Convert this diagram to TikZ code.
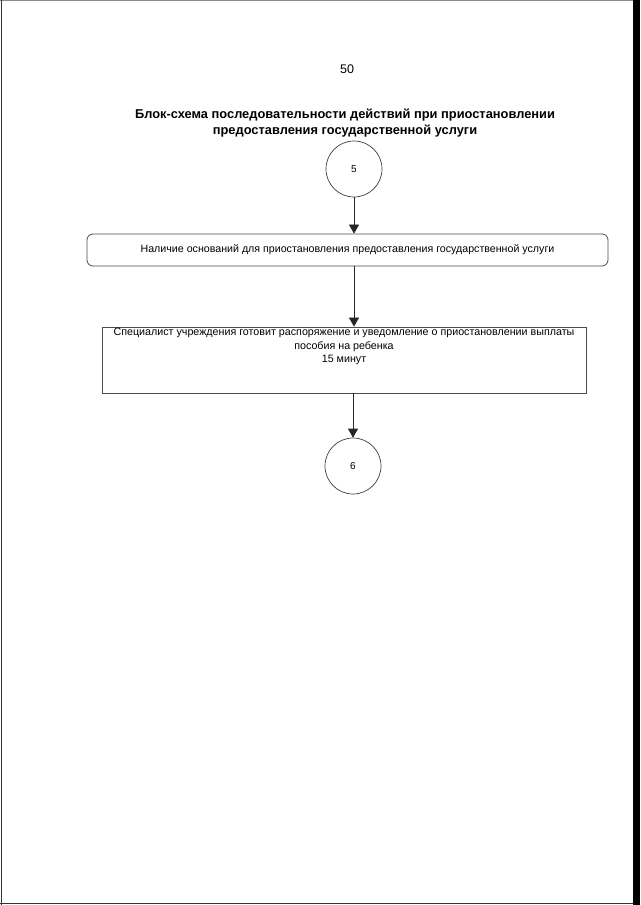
\documentclass[tikz,border=0pt]{standalone}
\usepackage{fontspec}
\setmainfont{Liberation Sans}
\usetikzlibrary{arrows.meta}
\begin{document}
\begin{tikzpicture}[x=1pt,y=-1pt,
  circ/.style={draw=black!75,line width=0.7pt,circle,minimum size=56pt,inner sep=0pt,font=\fontsize{10}{11}\selectfont},
  roundbox/.style={draw=black!70,line width=0.8pt,rounded corners=6pt,minimum width=521pt,minimum height=32pt,inner sep=0pt,font=\fontsize{10.65}{12}\selectfont},
  plainbox/.style={draw=black!70,line width=0.8pt,minimum width=484pt,minimum height=66pt,inner sep=0pt},
  boxtext/.style={align=center,inner sep=0pt,font=\fontsize{10.7}{13.5}\selectfont},
  conn/.style={draw=black!85,line width=0.7pt,-{Triangle[width=10pt,length=9pt]}},
  titletext/.style={align=center,font=\bfseries\fontsize{12.85}{16}\selectfont}]
\useasboundingbox (0,0) rectangle (640,905);
% scanned page edges
\fill[white] (0,0) rectangle (640,905);
\draw[black!45,line width=0.8pt] (0,0.5) -- (633,0.5);
\draw[black!80,line width=1pt] (1,0) -- (1,905);
\draw[black!80,line width=1pt] (0,903.5) -- (633,903.5);
\draw[black,line width=7pt] (636.5,0) -- (636.5,905);

\node[font=\fontsize{12.5}{14}\selectfont] (pagenum) at (347,69) {50};
\node[titletext] (title) at (345,123) {Блок-схема последовательности действий при приостановлении\\предоставления государственной услуги};

\node[circ] (c5) at (354,169) {5};
\node[roundbox] (b1) at (347.5,250) {Наличие оснований для приостановления предоставления государственной услуги};
\node[plainbox] (b2) at (344,360) {};
\node[boxtext,anchor=north] (t2) at (344,328) {Специалист учреждения готовит распоряжение и уведомление о приостановлении выплаты\\пособия на ребенка\\15 минут};
\node[circ] (c6) at (353,466) {6};

\draw[conn] (c5.south) -- (c5.south |- b1.north);
\draw[conn] (b1.south -| c5) -- (b2.north -| c5);
\draw[conn] (b2.south -| c6) -- (c6.north);
\end{tikzpicture}
\end{document}
